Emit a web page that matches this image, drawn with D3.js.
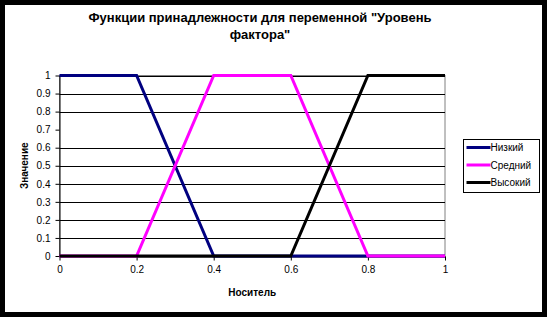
<!DOCTYPE html>
<html>
<head>
<meta charset="utf-8">
<script src="https://cdn.jsdelivr.net/npm/d3@7"></script>
<style>
  body { margin: 0; background: #000; }
  svg { display: block; }
  text { font-family: "Liberation Sans", Arial, sans-serif; }
</style>
</head>
<body>
<div class="chart"></div>
<script>
const xTicks = [0, 0.2, 0.4, 0.6, 0.8, 1];
const yTicks = [0, 0.1, 0.2, 0.3, 0.4, 0.5, 0.6, 0.7, 0.8, 0.9, 1];
const gridValues = [0.1, 0.2, 0.3, 0.4, 0.5, 0.6, 0.8, 0.9, 1];

const lowX = [0, 0.2, 0.4, 1];
const lowY = [1, 1, 0, 0];
const midX = [0, 0.2, 0.4, 0.6, 0.8, 1];
const midY = [0, 0, 1, 1, 0, 0];
const highX = [0, 0.6, 0.8, 1];
const highY = [0, 0, 1, 1];

const seriesNames = ['Низкий', 'Средний', 'Высокий'];
const seriesColors = ['#000080', '#ff00ff', '#000000'];

const w = 547;
const h = 317;
const margin = { top: 75.5, right: 102, bottom: 61, left: 59.5 };

const xScale = d3.scaleLinear()
                 .domain([0, 1])
                 .range([margin.left, w - margin.right]);

const yScale = d3.scaleLinear()
                 .domain([0, 1])
                 .range([h - margin.bottom, margin.top]);

const svg = d3.select('.chart')
              .append('svg')
              .attr('width', w)
              .attr('height', h);

svg.append('rect')
   .attr('x', 5).attr('y', 5)
   .attr('width', 537).attr('height', 307)
   .attr('fill', '#fff');

// plot border
svg.append('rect')
   .attr('x', xScale(0)).attr('y', yScale(1))
   .attr('width', xScale(1) - xScale(0))
   .attr('height', yScale(0) - yScale(1))
   .attr('fill', 'none')
   .attr('stroke', '#808080');

svg.selectAll('.grid')
   .data(gridValues)
   .enter()
   .append('line')
   .attr('x1', xScale(0)).attr('x2', xScale(1))
   .attr('y1', d => Math.round(yScale(d)) + 0.5)
   .attr('y2', d => Math.round(yScale(d)) + 0.5)
   .attr('stroke', '#000');

const xAxis = d3.axisBottom(xScale)
                .tickValues(xTicks)
                .tickFormat(d3.format('~g'))
                .tickSizeInner(4)
                .tickSizeOuter(0)
                .tickPadding(5);

const yAxis = d3.axisLeft(yScale)
                .tickValues(yTicks)
                .tickFormat(d3.format('~g'))
                .tickSizeInner(4)
                .tickSizeOuter(0)
                .tickPadding(5);

const gx = svg.append('g')
   .attr('transform', `translate(0, ${Math.round(yScale(0)) + 0.5})`)
   .call(xAxis);

const gy = svg.append('g')
   .attr('transform', `translate(${margin.left}, 0)`)
   .call(yAxis);

[gx, gy].forEach(g => {
  g.selectAll('path, line').attr('stroke', '#000');
  g.selectAll('text').attr('font-size', 10).attr('fill', '#000')
   .style('font-family', '"Liberation Sans", Arial, sans-serif');
});

const series = [
  { name: seriesNames[0], xs: lowX, ys: lowY, color: seriesColors[0] },
  { name: seriesNames[1], xs: midX, ys: midY, color: seriesColors[1] },
  { name: seriesNames[2], xs: highX, ys: highY, color: seriesColors[2] }
];

const line = d3.line()
               .x(d => xScale(d[0]))
               .y(d => yScale(d[1]));

svg.selectAll('.series')
   .data(series)
   .enter()
   .append('path')
   .attr('d', s => line(s.xs.map((x, i) => [x, s.ys[i]])))
   .attr('fill', 'none')
   .attr('stroke', s => s.color)
   .attr('stroke-width', 3);

// title
svg.append('text')
   .attr('x', 260).attr('y', 22)
   .attr('text-anchor', 'middle')
   .attr('font-size', 13).attr('font-weight', 'bold')
   .text('Функции принадлежности для переменной "Уровень');
svg.append('text')
   .attr('x', 260).attr('y', 39)
   .attr('text-anchor', 'middle')
   .attr('font-size', 13).attr('font-weight', 'bold')
   .text('фактора"');

svg.append('text')
   .attr('x', xScale(0.5)).attr('y', 296)
   .attr('text-anchor', 'middle')
   .attr('font-size', 10).attr('font-weight', 'bold')
   .text('Носитель');

svg.append('text')
   .attr('transform', `translate(28, ${yScale(0.5)}) rotate(-90)`)
   .attr('text-anchor', 'middle')
   .attr('font-size', 10).attr('font-weight', 'bold')
   .text('Значение');

// legend
const legend = svg.append('g').attr('transform', 'translate(463.5, 139.5)');
legend.append('rect')
      .attr('width', 76).attr('height', 53)
      .attr('fill', '#fff').attr('stroke', '#000');

const item = legend.selectAll('.item')
                   .data(series)
                   .enter()
                   .append('g')
                   .attr('transform', (d, i) => `translate(0, ${8 + i * 17.5})`);
item.append('line')
    .attr('x1', 3).attr('x2', 27)
    .attr('stroke', d => d.color)
    .attr('stroke-width', 3);
item.append('text')
    .attr('x', 27).attr('y', 3.5)
    .attr('font-size', 10)
    .text(d => d.name);
</script>
</body>
</html>
